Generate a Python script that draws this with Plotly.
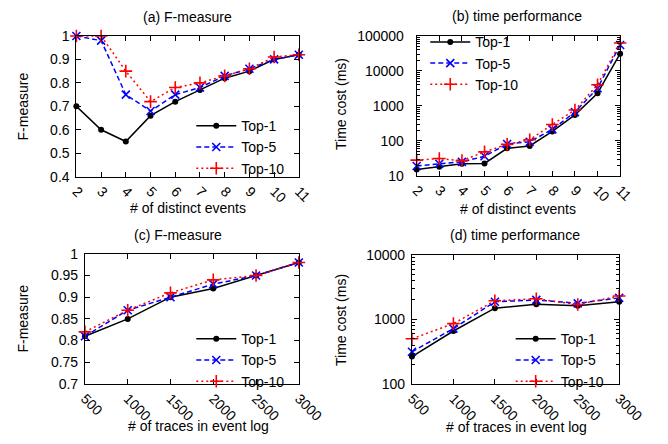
import plotly.graph_objects as go

# ---------------- data ----------------
events = [2, 3, 4, 5, 6, 7, 8, 9, 10, 11]
fm_top1 = [0.70, 0.60, 0.55, 0.66, 0.72, 0.77, 0.82, 0.85, 0.90, 0.92]
fm_top5 = [1.00, 0.98, 0.75, 0.68, 0.75, 0.78, 0.83, 0.86, 0.90, 0.92]
fm_top10 = [1.00, 1.00, 0.85, 0.72, 0.78, 0.80, 0.83, 0.86, 0.91, 0.92]

tm_top1 = [15, 18, 22, 22.5, 61, 71, 185, 550, 2300, 31000]
tm_top5 = [19, 22, 25, 36, 81, 94, 213, 660, 3200, 55000]
tm_top10 = [28, 31, 27, 48, 79, 107, 293, 760, 4000, 63000]

traces_n = [500, 1000, 1500, 2000, 2500, 3000]
fc_top1 = [0.81, 0.85, 0.90, 0.92, 0.95, 0.98]
fc_top5 = [0.81, 0.87, 0.90, 0.93, 0.95, 0.98]
fc_top10 = [0.82, 0.87, 0.91, 0.94, 0.95, 0.98]

td_top1 = [265, 660, 1490, 1720, 1620, 1870]
td_top5 = [315, 720, 1870, 2000, 1770, 2150]
td_top10 = [500, 860, 1940, 2080, 1700, 2300]

series_names = ["Top-1", "Top-5", "Top-10"]
fm_tickvals = [0.4, 0.5, 0.6, 0.7, 0.8, 0.9, 1.0]
fc_tickvals = [0.7, 0.75, 0.8, 0.85, 0.9, 0.95, 1.0]
tb_tickvals = [10, 100, 1000, 10000, 100000]
td_tickvals = [100, 1000, 10000]

# ---------------- styles ----------------
FONT = "Liberation Sans, Arial, sans-serif"
FS = 14
styles = {
    "Top-1": dict(line=dict(color="black", width=1.5, dash="solid"),
                  marker=dict(symbol="circle", size=6, color="black")),
    "Top-5": dict(line=dict(color="#0000ff", width=1.5, dash="5px,3px"),
                  marker=dict(symbol="x-thin", size=8, color="#0000ff",
                              line=dict(color="#0000ff", width=1.6))),
    "Top-10": dict(line=dict(color="#ff0000", width=1.5, dash="2px,3px"),
                   marker=dict(symbol="cross-thin", size=9, color="#ff0000",
                               line=dict(color="#ff0000", width=1.6))),
}

W, H = 668, 444


def px_x(p):
    return p / W


def px_y(p):
    return 1 - p / H


fig = go.Figure()

panels = [
    ("x", "y", "legend", events, [fm_top1, fm_top5, fm_top10]),
    ("x2", "y2", "legend2", events, [tm_top1, tm_top5, tm_top10]),
    ("x3", "y3", "legend3", traces_n, [fc_top1, fc_top5, fc_top10]),
    ("x4", "y4", "legend4", traces_n, [td_top1, td_top5, td_top10]),
]
for xa, ya, lg, xs, ys_list in panels:
    for name, ys in zip(series_names, ys_list):
        fig.add_trace(go.Scatter(
            x=xs, y=ys, name=name, mode="lines+markers",
            xaxis=xa, yaxis=ya, legend=lg, cliponaxis=False,
            **styles[name]))

axis_common = dict(
    showline=True, linecolor="black", linewidth=1, mirror="ticks",
    ticks="inside", ticklen=5, tickcolor="black", tickwidth=1,
    showgrid=False, zeroline=False,
    tickfont=dict(family=FONT, size=FS, color="black"),
)
minor_log = dict(ticks="inside", ticklen=3, tickcolor="black", dtick="D1", showgrid=False)

dom_a = dict(x=[px_x(73), px_x(307)], y=[px_y(175), px_y(29)])
dom_b = dict(x=[px_x(431), px_x(645)], y=[px_y(174), px_y(29)])
dom_c = dict(x=[px_x(82), px_x(307)], y=[px_y(390), px_y(255)])
dom_d = dict(x=[px_x(426), px_x(644)], y=[px_y(390), px_y(256)])

fig.update_layout(
    width=W, height=H,
    margin=dict(l=0, r=0, t=0, b=0),
    paper_bgcolor="white", plot_bgcolor="white",
    font=dict(family=FONT, size=FS, color="black"),
    showlegend=True,
    xaxis=dict(axis_common, domain=dom_a["x"], anchor="y", range=[2, 11],
               tickmode="array", tickvals=events, tickangle=45),
    yaxis=dict(axis_common, domain=dom_a["y"], anchor="x", range=[0.4, 1.0],
               tickmode="array", tickvals=fm_tickvals,
               ticktext=[("%g" % v) for v in fm_tickvals], ticklabelstandoff=3),
    xaxis2=dict(axis_common, domain=dom_b["x"], anchor="y2", range=[2, 11],
                tickmode="array", tickvals=events, tickangle=45),
    yaxis2=dict(axis_common, domain=dom_b["y"], anchor="x2", type="log", range=[1, 5],
                tickmode="array", tickvals=tb_tickvals,
                ticktext=[str(v) for v in tb_tickvals], minor=minor_log,
                ticklabelstandoff=9),
    xaxis3=dict(axis_common, domain=dom_c["x"], anchor="y3", range=[500, 3000],
                tickmode="array", tickvals=traces_n, tickangle=45),
    yaxis3=dict(axis_common, domain=dom_c["y"], anchor="x3", range=[0.7, 1.0],
                tickmode="array", tickvals=fc_tickvals,
                ticktext=[("%g" % v) for v in fc_tickvals], ticklabelstandoff=3),
    xaxis4=dict(axis_common, domain=dom_d["x"], anchor="y4", range=[500, 3000],
                tickmode="array", tickvals=traces_n, tickangle=45),
    yaxis4=dict(axis_common, domain=dom_d["y"], anchor="x4", type="log", range=[2, 4],
                tickmode="array", tickvals=td_tickvals,
                ticktext=[str(v) for v in td_tickvals], minor=minor_log,
                ticklabelstandoff=3),
)

legend_common = dict(bgcolor="rgba(0,0,0,0)", borderwidth=0,
                     font=dict(family=FONT, size=FS, color="black"),
                     tracegroupgap=0, itemwidth=40)
fig.update_layout(
    legend=dict(legend_common, x=px_x(298), xanchor="right", y=px_y(106), yanchor="top"),
    legend2=dict(legend_common, x=px_x(440), xanchor="left", y=px_y(19), yanchor="top"),
    legend3=dict(legend_common, x=px_x(298), xanchor="right", y=px_y(327), yanchor="top"),
    legend4=dict(legend_common, x=px_x(634), xanchor="right", y=px_y(327), yanchor="top"),
)

# panel titles and axis titles (text, center x, center y, angle)
labels = [
    ("(a) F-measure", 190, 9, 0), ("(b) time performance", 537, 8, 0),
    ("(c) F-measure", 180, 236, 0), ("(d) time performance", 534, 236, 0),
    ("# of distinct events", 190, 207, 0), ("# of distinct events", 538, 208, 0),
    ("# of traces in event log", 201, 434, 0), ("# of traces in event log", 536, 435, 0),
    ("F-measure", 17, 102, -90), ("Time cost (ms)", 352, 100, -90),
    ("F-measure", 17, 322, -90), ("Time cost (ms)", 352, 324, -90),
]
for text, cx, cy, ang in labels:
    fig.add_annotation(text=text, x=px_x(cx), y=px_y(cy), xref="paper", yref="paper",
                       xanchor="center", yanchor="middle", showarrow=False,
                       textangle=ang,
                       font=dict(family=FONT, size=FS, color="black"))

fig.write_html("out.html",
               config={"displayModeBar": False},
               post_script="document.body.style.margin='0';"
                           "document.body.style.overflow='hidden';")
